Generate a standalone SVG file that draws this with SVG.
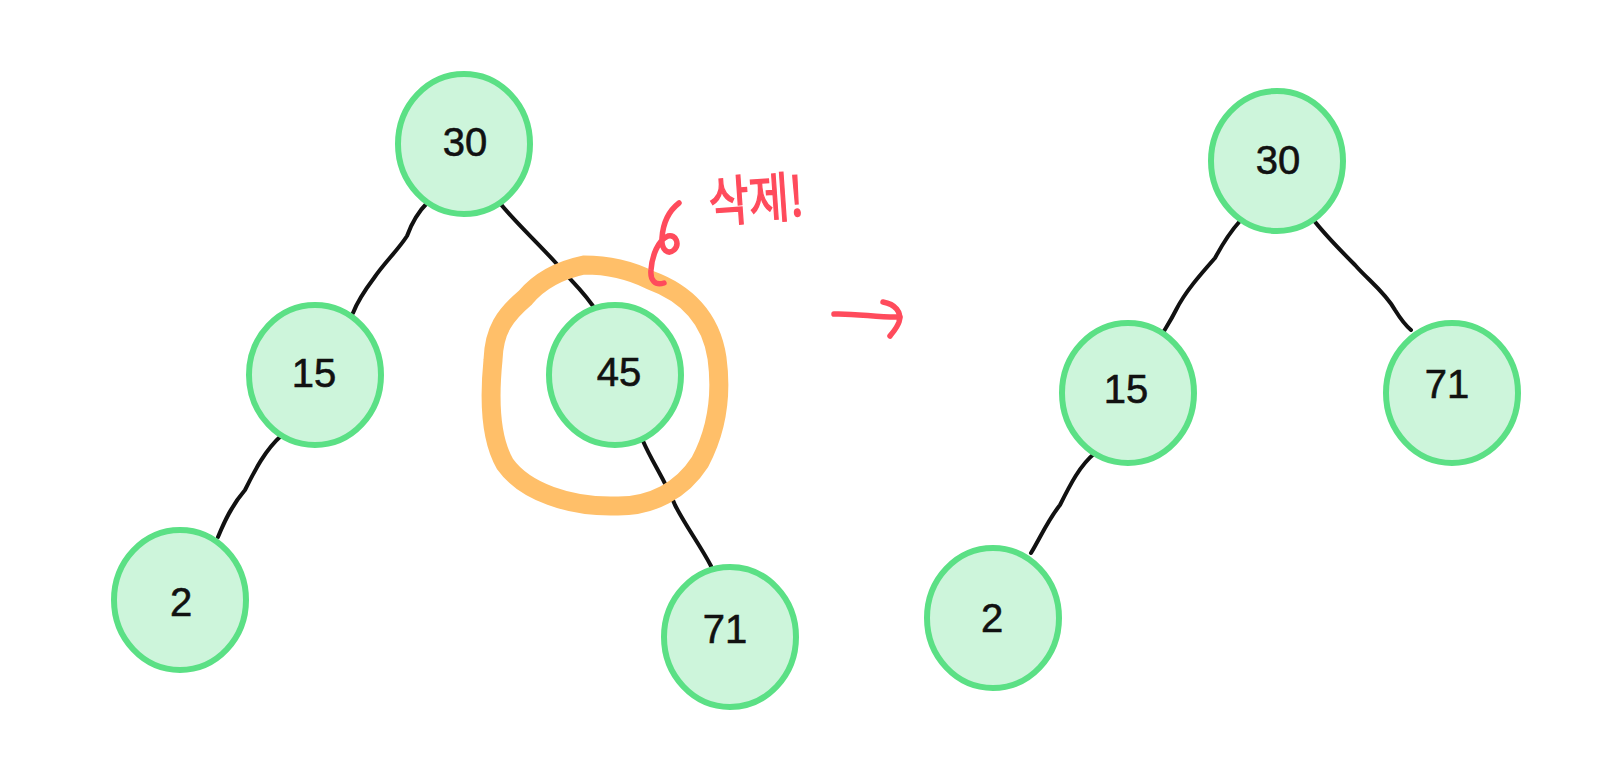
<svg xmlns="http://www.w3.org/2000/svg" width="1597" height="761" viewBox="0 0 1597 761">
<style>
.node ellipse{fill:#CDF5DB;stroke:#5BE085;stroke-width:6}
.node text{font-family:"Liberation Sans",sans-serif;font-size:40px;fill:#111;text-anchor:middle;dominant-baseline:central;stroke:#111;stroke-width:0.6}
.edge{fill:none;stroke:#111;stroke-width:4;stroke-linecap:round;stroke-linejoin:round}
.red{fill:none;stroke:#FF4B5C;stroke-width:5.5;stroke-linecap:round;stroke-linejoin:round}
</style>
<rect width="1597" height="761" fill="#fff"/>
<g id="connectors">
<path class="edge" d="M428,202 C418,212 412,222 407,236 C398,250 385,262 374,278 C365,290 358,300 353,313"/>
<path class="edge" d="M499,202 C515,222 535,240 555,262 C570,280 585,292 597,312"/>
<path class="edge" d="M282,435 C265,450 255,470 245,490 C232,505 225,520 218,537"/>
<path class="edge" d="M643,441 C652,462 665,480 675,505 C685,525 700,545 711,566"/>
<path class="edge" d="M1240,221 C1230,232 1222,245 1215,258 C1200,275 1185,292 1176,310 C1171,320 1167,326 1164,331"/>
<path class="edge" d="M1312,218 C1325,235 1340,250 1355,265 C1368,280 1385,292 1395,310 C1400,318 1405,325 1411,330"/>
<path class="edge" d="M1095,453 C1080,465 1070,485 1060,505 C1048,520 1040,538 1031,553"/>
</g>
<path id="ring" d="M584,265 C560,270 540,280 525,298 C505,315 494,330 493,360 C489,400 491,440 505,464 C525,492 570,507 615,506 C652,507 682,490 700,462 C717,430 722,395 717,358 C711,318 686,293 650,280 C630,270 610,265 584,265 Z" fill="none" stroke="#FFBF69" stroke-width="19"/>
<g id="n30" class="node"><ellipse cx="464" cy="144" rx="66" ry="70"/><text x="465" y="142">30</text></g>
<g id="n15" class="node"><ellipse cx="315" cy="375" rx="66" ry="70"/><text x="314" y="373">15</text></g>
<g id="n2" class="node"><ellipse cx="180" cy="600" rx="66" ry="70"/><text x="181" y="602">2</text></g>
<g id="n45" class="node"><ellipse cx="615" cy="375" rx="66" ry="70"/><text x="619" y="372">45</text></g>
<g id="n71" class="node"><ellipse cx="730" cy="637" rx="66" ry="70"/><text x="725" y="629">71</text></g>
<g id="r30" class="node"><ellipse cx="1277" cy="161" rx="66" ry="70"/><text x="1278" y="160">30</text></g>
<g id="r15" class="node"><ellipse cx="1128" cy="393" rx="66" ry="70"/><text x="1126" y="389">15</text></g>
<g id="r2" class="node"><ellipse cx="993" cy="618" rx="66" ry="70"/><text x="992" y="618">2</text></g>
<g id="r71" class="node"><ellipse cx="1452" cy="393" rx="66" ry="70"/><text x="1447" y="384">71</text></g>
<g id="note">
<path class="red" d="M679,203 C670,210 663,222 662,238 C661,250 668,255 674,250 C680,244 676,234 668,236 C658,240 652,256 651,270 C650,280 655,286 664,283"/>
<text x="710" y="222" font-family="'Noto Sans CJK KR',sans-serif" font-size="54" fill="#FF4B5C" stroke="#FF4B5C" stroke-width="1.5" textLength="95" lengthAdjust="spacingAndGlyphs" transform="rotate(-4 710 222)">삭제!</text>
</g>
<g id="arrow">
<path class="red" d="M834,314 C855,313 880,318 900,317"/>
<path class="red" d="M883,302 C895,304 902,312 899,322 C897,328 893,332 890,336"/>
</g>
</svg>
